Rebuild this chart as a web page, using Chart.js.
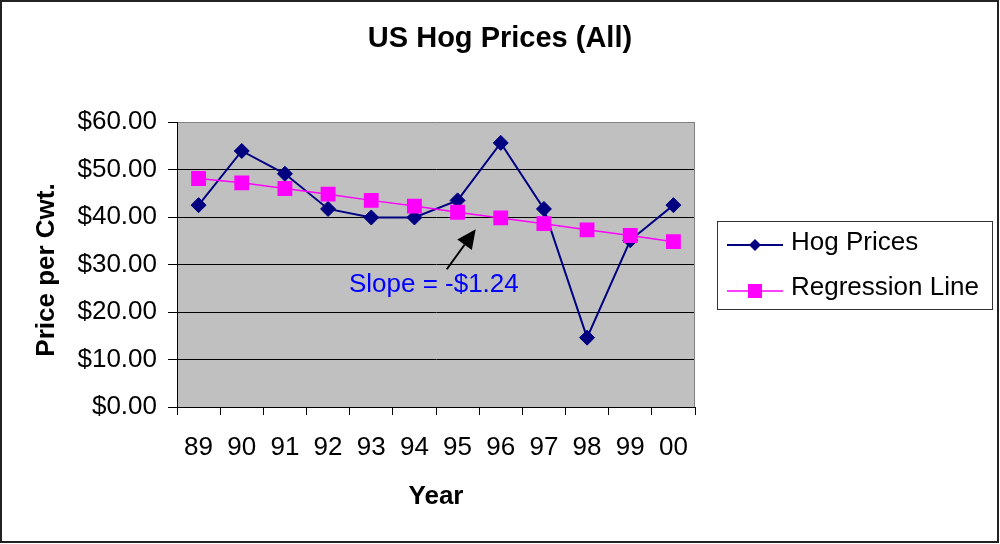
<!DOCTYPE html>
<html>
<head>
<meta charset="utf-8">
<script src="https://cdn.jsdelivr.net/npm/chart.js@4.4.0/dist/chart.umd.min.js"></script>
<style>
  body { margin: 0; background: #fff; }
  #wrap { width: 1000px; height: 544px; }
</style>
</head>
<body>
<div id="wrap"><canvas id="chartHog" width="1000" height="544"></canvas></div>
<script>
// Dados
const anos = ["89", "90", "91", "92", "93", "94", "95", "96", "97", "98", "99", "00"];
const precosSuinos = [42.5, 53.9, 49.1, 41.7, 39.9, 39.9, 43.5, 55.6, 41.7, 14.6, 35.1, 42.5];
const linhaRegressao = [48.1, 47.2, 46.0, 44.8, 43.5, 42.3, 41.0, 39.8, 38.6, 37.3, 36.1, 34.8];
const ticksY = [0, 10, 20, 30, 40, 50, 60];

// Anotação (em coordenadas de dados: índice do ano, valor)
const textoSlope = "Slope = -$1.24";
const posTexto = [5.45, 25.7];
const setaInicio = [5.75, 29.0];
const setaFim = [6.42, 37.4];

const FONTE = "'Liberation Sans', Arial, sans-serif";
const AZUL_MARINHO = "#000080";
const MAGENTA = "#FF00FF";

// Plugin para fundo, títulos, anotação, legenda e borda
const pluginExtras = {
  id: "extras",
  beforeDraw(chart) {
    const { ctx, chartArea: a } = chart;
    ctx.save();
    ctx.fillStyle = "#fff";
    ctx.fillRect(0, 0, chart.width, chart.height);
    ctx.fillStyle = "#C0C0C0";
    ctx.fillRect(a.left, a.top, a.right - a.left, a.bottom - a.top);
    ctx.restore();
  },
  beforeDatasetsDraw(chart) {
    const { ctx, chartArea: a } = chart;
    ctx.save();
    ctx.strokeStyle = "#808080";
    ctx.lineWidth = 1;
    ctx.beginPath();
    ctx.moveTo(a.right - 0.5, a.top);
    ctx.lineTo(a.right - 0.5, a.bottom);
    ctx.stroke();
    ctx.restore();
  },
  afterDatasetsDraw(chart) {
    const { ctx } = chart;
    const sx = chart.scales.x;
    const sy = chart.scales.y;
    ctx.save();
    // texto da inclinação
    ctx.fillStyle = "#0000FF";
    ctx.font = "26px " + FONTE;
    ctx.textAlign = "center";
    ctx.textBaseline = "middle";
    ctx.fillText(textoSlope, sx.getPixelForValue(posTexto[0]), sy.getPixelForValue(posTexto[1]));

    // seta
    const x0 = sx.getPixelForValue(setaInicio[0]);
    const y0 = sy.getPixelForValue(setaInicio[1]);
    const x1 = sx.getPixelForValue(setaFim[0]);
    const y1 = sy.getPixelForValue(setaFim[1]);
    const ang = Math.atan2(y1 - y0, x1 - x0);
    const comp = 19;
    const meia = 9;
    const bx = x1 - comp * Math.cos(ang);
    const by = y1 - comp * Math.sin(ang);
    ctx.strokeStyle = "#000";
    ctx.lineWidth = 2;
    ctx.beginPath();
    ctx.moveTo(x0, y0);
    ctx.lineTo(bx, by);
    ctx.stroke();
    ctx.fillStyle = "#000";
    ctx.beginPath();
    ctx.moveTo(x1, y1);
    ctx.lineTo(bx + meia * Math.sin(ang), by - meia * Math.cos(ang));
    ctx.lineTo(bx - meia * Math.sin(ang), by + meia * Math.cos(ang));
    ctx.closePath();
    ctx.fill();
    ctx.restore();
  },
  afterDraw(chart) {
    const { ctx } = chart;
    ctx.save();
    // título principal
    ctx.fillStyle = "#000";
    ctx.font = "bold 29px " + FONTE;
    ctx.textAlign = "center";
    ctx.textBaseline = "middle";
    ctx.fillText("US Hog Prices (All)", 500, 39);

    // título do eixo Y
    ctx.save();
    ctx.translate(47, 270);
    ctx.rotate(-Math.PI / 2);
    ctx.font = "bold 26px " + FONTE;
    ctx.fillText("Price per Cwt.", 0, 0);
    ctx.restore();

    // caixa da legenda
    ctx.strokeStyle = "#333";
    ctx.lineWidth = 1;
    ctx.strokeRect(717.5, 221.5, 275, 88);

    // Hog Prices
    ctx.strokeStyle = AZUL_MARINHO;
    ctx.lineWidth = 2;
    ctx.beginPath();
    ctx.moveTo(727, 245);
    ctx.lineTo(783, 245);
    ctx.stroke();
    ctx.fillStyle = AZUL_MARINHO;
    ctx.beginPath();
    ctx.moveTo(755 - 6, 245);
    ctx.lineTo(755, 245 - 6);
    ctx.lineTo(755 + 6, 245);
    ctx.lineTo(755, 245 + 6);
    ctx.closePath();
    ctx.fill();

    // Regression Line
    ctx.strokeStyle = MAGENTA;
    ctx.lineWidth = 1.5;
    ctx.beginPath();
    ctx.moveTo(727, 291);
    ctx.lineTo(783, 291);
    ctx.stroke();
    ctx.fillStyle = MAGENTA;
    ctx.fillRect(755 - 7, 291 - 7, 14, 14);

    ctx.fillStyle = "#000";
    ctx.font = "26px " + FONTE;
    ctx.textAlign = "left";
    ctx.textBaseline = "middle";
    ctx.fillText("Hog Prices", 791, 243);
    ctx.fillText("Regression Line", 791, 288);

    // borda externa
    ctx.strokeStyle = "#222";
    ctx.lineWidth = 2;
    ctx.strokeRect(1, 1, 997, 541);
    ctx.restore();
  },
};

// Função para criar o gráfico
function criarGraficoHog() {
  const ctx = document.getElementById("chartHog").getContext("2d");
  return new Chart(ctx, {
    type: "line",
    data: {
      labels: anos,
      datasets: [
        {
          label: "Hog Prices",
          data: precosSuinos,
          borderColor: AZUL_MARINHO,
          backgroundColor: AZUL_MARINHO,
          borderWidth: 2,
          pointStyle: "rectRot",
          pointRadius: 7.5,
          pointBorderWidth: 1,
          tension: 0,
          order: 1,
        },
        {
          label: "Regression Line",
          data: linhaRegressao,
          borderColor: MAGENTA,
          backgroundColor: MAGENTA,
          borderWidth: 1.5,
          pointStyle: "rect",
          pointRadius: 10.5,
          pointBorderWidth: 0,
          tension: 0,
          order: 0,
        },
      ],
    },
    options: {
      responsive: false,
      animation: false,
      layout: { padding: { top: 122, right: 305, bottom: 0, left: 0 } },
      scales: {
        x: {
          offset: true,
          grid: {
            offset: true,
            drawOnChartArea: false,
            drawTicks: true,
            tickLength: 8,
            color: "#000",
          },
          border: { color: "#000", width: 1 },
          ticks: {
            color: "#000",
            font: { family: FONTE, size: 26 },
            padding: 17,
            maxRotation: 0,
            autoSkip: false,
          },
          title: {
            display: true,
            text: "Year",
            color: "#000",
            font: { family: FONTE, size: 26, weight: "bold" },
            padding: { top: 0, bottom: 32 },
          },
          afterFit(scale) {
            scale.height = 137;
          },
        },
        y: {
          min: 0,
          max: 60,
          afterBuildTicks(scale) {
            scale.ticks = ticksY.map((v) => ({ value: v }));
          },
          ticks: {
            color: "#000",
            font: { family: FONTE, size: 26 },
            padding: 11,
            callback: (v) => "$" + Number(v).toFixed(2),
          },
          grid: {
            color: (c) => (c.tick && c.tick.value === 60 ? "#808080" : "#000"),
            tickColor: "#000",
            tickLength: 9,
            lineWidth: 1,
          },
          border: { color: "#000", width: 1 },
          title: { display: false },
          afterFit(scale) {
            scale.width = 177;
          },
        },
      },
      plugins: {
        legend: { display: false },
        tooltip: { enabled: false },
        title: { display: false },
      },
    },
    plugins: [pluginExtras],
  });
}

criarGraficoHog();
</script>
</body>
</html>
